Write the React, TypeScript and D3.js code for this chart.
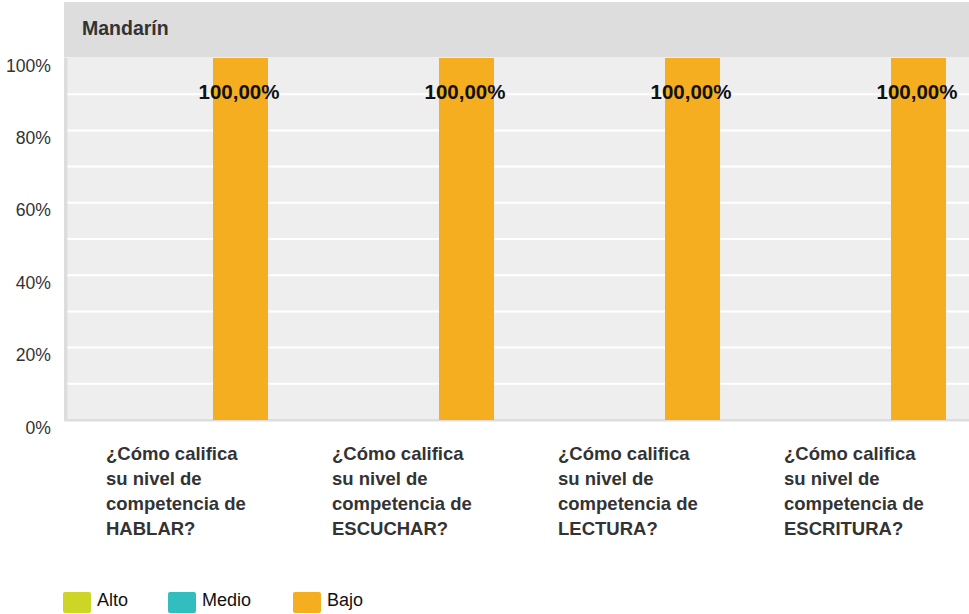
import React from "react";
import * as d3 from "d3";

const title = "Mandarín";
const categories = [
  ["¿Cómo califica", "su nivel de", "competencia de", "HABLAR?"],
  ["¿Cómo califica", "su nivel de", "competencia de", "ESCUCHAR?"],
  ["¿Cómo califica", "su nivel de", "competencia de", "LECTURA?"],
  ["¿Cómo califica", "su nivel de", "competencia de", "ESCRITURA?"],
];
const seriesNames = ["Alto", "Medio", "Bajo"];
const seriesColors = ["#cdd626", "#32bebe", "#f5ae1f"];
const alto = [0, 0, 0, 0];
const medio = [0, 0, 0, 0];
const bajo = [1, 1, 1, 1];
const yTicks = [0, 0.2, 0.4, 0.6, 0.8, 1];
const gridValues = [0.1, 0.2, 0.3, 0.4, 0.5, 0.6, 0.7, 0.8, 0.9];

const W = 969;
const H = 614;
const FONT = "Arial, 'Liberation Sans', Helvetica, sans-serif";

export default function App() {
  const values = [alto, medio, bajo];
  const catIdx = categories.map((_, i) => String(i));
  const x = d3.scaleBand<string>().domain(catIdx).range([72.5, 976.5]).paddingInner(0).paddingOuter(0);
  const xs = d3
    .scaleBand<string>()
    .domain(seriesNames)
    .range([0, x.bandwidth()])
    .paddingInner(0)
    .paddingOuter(30.5 / 55);
  const y = d3.scaleLinear().domain([0, 1]).range([420, 58]);
  const fmt = (v: number) => (v * 100).toFixed(2).replace(".", ",") + "%";

  // legend layout
  const legendX: number[] = [];
  let lx = 63;
  const approxW = [31, 51, 37];
  seriesNames.forEach((s, i) => {
    legendX.push(lx);
    lx += 28 + 6 + approxW[i] + 40;
  });

  return (
    <svg
      width={W}
      height={H}
      style={{ position: "absolute", left: 0, top: 0, display: "block", background: "#ffffff" }}
      fontFamily={FONT}
    >
      {/* header band */}
      <rect x={64} y={2} width={W - 64} height={55.5} fill="#dddddd" />
      <text x={82} y={35} fontSize={19.5} fontWeight="bold" fill="#333333">
        {title}
      </text>
      {/* plot background */}
      <rect x={64} y={y(1)} width={W - 64} height={y(0) - y(1) + 1.5} fill="#dddddd" />
      <rect x={67.5} y={y(1)} width={W - 67.5} height={y(0) - y(1) - 1} fill="#eeeeee" />
      {gridValues.map((g) => (
        <line key={g} x1={67.5} x2={W} y1={y(g)} y2={y(g)} stroke="#ffffff" strokeWidth={2} />
      ))}
      {/* y tick labels */}
      {yTicks.map((t) => (
        <text key={t} x={51} y={y(t) + 13.5} textAnchor="end" fontSize={17.6} fill="#333333">
          {`${Math.round(t * 100)}%`}
        </text>
      ))}
      {/* bars */}
      {seriesNames.map((s, si) =>
        values[si].map((v, ci) =>
          v > 0 ? (
            <rect
              key={s + ci}
              x={(x(String(ci)) as number) + (xs(s) as number)}
              y={y(v)}
              width={xs.bandwidth()}
              height={y(0) - y(v)}
              fill={seriesColors[si]}
            />
          ) : null
        )
      )}
      {/* value labels */}
      {seriesNames.map((s, si) =>
        values[si].map((v, ci) =>
          v > 0 ? (
            <text
              key={"l" + s + ci}
              x={(x(String(ci)) as number) + (xs(s) as number) + xs.bandwidth() / 2 - 1.5}
              y={y(v) + 41}
              textAnchor="middle"
              fontSize={20.5}
              fontWeight="bold"
              fill="#111111"
            >
              {fmt(v)}
            </text>
          ) : null
        )
      )}
      {/* x labels */}
      {categories.map((lines, ci) => (
        <text
          key={"c" + ci}
          x={(x(String(ci)) as number) + (xs(seriesNames[0]) as number) + 3}
          y={460}
          fontSize={18.5}
          fontWeight="bold"
          fill="#333333"
        >
          {lines.map((ln, li) => (
            <tspan key={li} x={(x(String(ci)) as number) + (xs(seriesNames[0]) as number) + 3} y={460 + li * 25}>
              {ln}
            </tspan>
          ))}
        </text>
      ))}
      {/* legend */}
      {seriesNames.map((s, i) => (
        <g key={"lg" + s} transform={`translate(${legendX[i]},592)`}>
          <rect width={28} height={21} rx={2} fill={seriesColors[i]} />
          <text x={34} y={14} fontSize={18} fill="#111111">
            {s}
          </text>
        </g>
      ))}
    </svg>
  );
}
